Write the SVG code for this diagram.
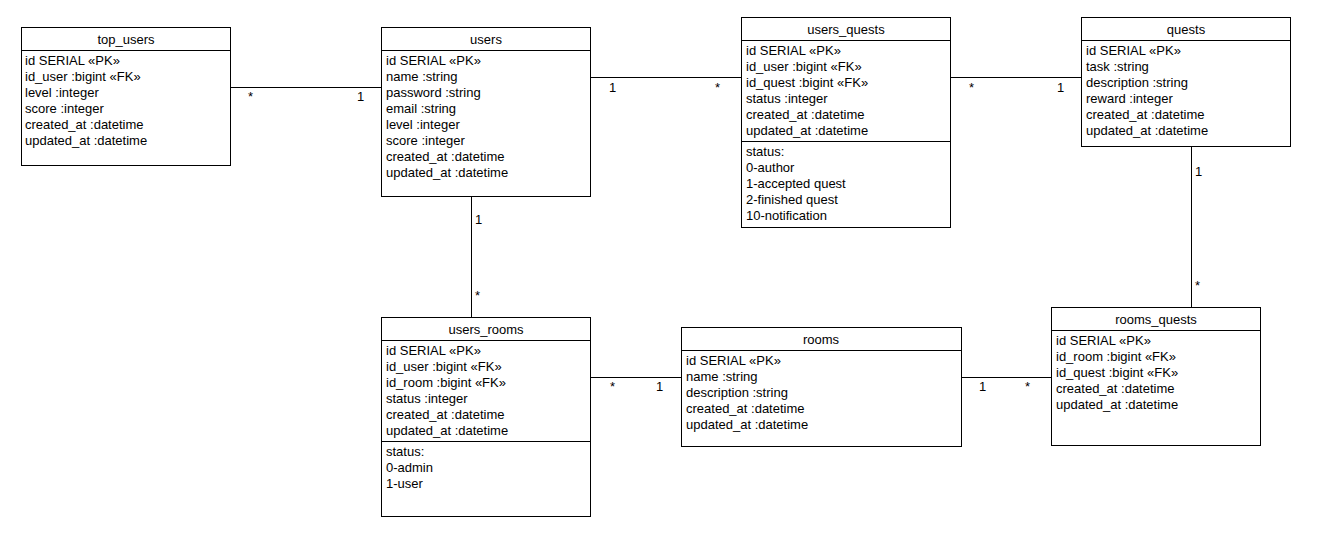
<svg xmlns="http://www.w3.org/2000/svg" width="1325" height="540" viewBox="0 0 1325 540">
  <style>
    .box { fill: #ffffff; stroke: #000000; stroke-width: 1; }
    .sep { stroke: #000000; stroke-width: 1; }
    .edge { fill: none; stroke: #000000; stroke-width: 1; }
    text { font-family: "Liberation Sans", Arial, sans-serif; font-size: 13px; fill: #000000; }
    .title { text-anchor: middle; }
  </style>
  <rect width="1325" height="540" fill="#ffffff"/>

  <!-- associations with multiplicities -->
  <g id="connectors">
    <path class="edge" d="M230.5,87.5 H381.5"/>
    <text x="248" y="101">*</text>
    <text x="357" y="101">1</text>

    <path class="edge" d="M590.5,77.5 H741.5"/>
    <text x="609" y="92">1</text>
    <text x="715" y="92">*</text>

    <path class="edge" d="M950.5,77.5 H1081.5"/>
    <text x="969" y="92">*</text>
    <text x="1057" y="92">1</text>

    <path class="edge" d="M471.5,196.5 V317.5"/>
    <text x="475" y="224">1</text>
    <text x="475" y="300">*</text>

    <path class="edge" d="M1191.5,146.5 V307.5"/>
    <text x="1195" y="176">1</text>
    <text x="1195" y="290">*</text>

    <path class="edge" d="M590.5,377.5 H681.5"/>
    <text x="610" y="391">*</text>
    <text x="656" y="391">1</text>

    <path class="edge" d="M961.5,377.5 H1051.5"/>
    <text x="979" y="391">1</text>
    <text x="1025" y="391">*</text>
  </g>

  <g id="top_users">
    <rect class="box" x="21.5" y="27.5" width="209" height="138"/>
    <line class="sep" x1="21.5" y1="50.5" x2="230.5" y2="50.5"/>
    <text class="title" x="126" y="44">top_users</text>
    <text x="25" y="65">id SERIAL «PK»</text>
    <text x="25" y="81">id_user :bigint «FK»</text>
    <text x="25" y="97">level :integer</text>
    <text x="25" y="113">score :integer</text>
    <text x="25" y="129">created_at :datetime</text>
    <text x="25" y="145">updated_at :datetime</text>
  </g>

  <g id="users">
    <rect class="box" x="381.5" y="27.5" width="209" height="169"/>
    <line class="sep" x1="381.5" y1="50.5" x2="590.5" y2="50.5"/>
    <text class="title" x="486" y="44">users</text>
    <text x="386" y="65">id SERIAL «PK»</text>
    <text x="386" y="81">name :string</text>
    <text x="386" y="97">password :string</text>
    <text x="386" y="113">email :string</text>
    <text x="386" y="129">level :integer</text>
    <text x="386" y="145">score :integer</text>
    <text x="386" y="161">created_at :datetime</text>
    <text x="386" y="177">updated_at :datetime</text>
  </g>

  <g id="users_quests">
    <rect class="box" x="741.5" y="17.5" width="209" height="210"/>
    <line class="sep" x1="741.5" y1="40.5" x2="950.5" y2="40.5"/>
    <line class="sep" x1="741.5" y1="141.5" x2="950.5" y2="141.5"/>
    <text class="title" x="846" y="34">users_quests</text>
    <text x="746" y="55">id SERIAL «PK»</text>
    <text x="746" y="71">id_user :bigint «FK»</text>
    <text x="746" y="87">id_quest :bigint «FK»</text>
    <text x="746" y="103">status :integer</text>
    <text x="746" y="119">created_at :datetime</text>
    <text x="746" y="135">updated_at :datetime</text>
    <text x="746" y="156">status:</text>
    <text x="746" y="172">0-author</text>
    <text x="746" y="188">1-accepted quest</text>
    <text x="746" y="204">2-finished quest</text>
    <text x="746" y="220">10-notification</text>
  </g>

  <g id="quests">
    <rect class="box" x="1081.5" y="17.5" width="209" height="129"/>
    <line class="sep" x1="1081.5" y1="40.5" x2="1290.5" y2="40.5"/>
    <text class="title" x="1186" y="34">quests</text>
    <text x="1086" y="55">id SERIAL «PK»</text>
    <text x="1086" y="71">task :string</text>
    <text x="1086" y="87">description :string</text>
    <text x="1086" y="103">reward :integer</text>
    <text x="1086" y="119">created_at :datetime</text>
    <text x="1086" y="135">updated_at :datetime</text>
  </g>

  <g id="users_rooms">
    <rect class="box" x="381.5" y="317.5" width="209" height="199"/>
    <line class="sep" x1="381.5" y1="340.5" x2="590.5" y2="340.5"/>
    <line class="sep" x1="381.5" y1="441.5" x2="590.5" y2="441.5"/>
    <text class="title" x="486" y="334">users_rooms</text>
    <text x="386" y="355">id SERIAL «PK»</text>
    <text x="386" y="371">id_user :bigint «FK»</text>
    <text x="386" y="387">id_room :bigint «FK»</text>
    <text x="386" y="403">status :integer</text>
    <text x="386" y="419">created_at :datetime</text>
    <text x="386" y="435">updated_at :datetime</text>
    <text x="386" y="456">status:</text>
    <text x="386" y="472">0-admin</text>
    <text x="386" y="488">1-user</text>
  </g>

  <g id="rooms">
    <rect class="box" x="681.5" y="327.5" width="280" height="119"/>
    <line class="sep" x1="681.5" y1="350.5" x2="961.5" y2="350.5"/>
    <text class="title" x="821" y="344">rooms</text>
    <text x="686" y="365">id SERIAL «PK»</text>
    <text x="686" y="381">name :string</text>
    <text x="686" y="397">description :string</text>
    <text x="686" y="413">created_at :datetime</text>
    <text x="686" y="429">updated_at :datetime</text>
  </g>

  <g id="rooms_quests">
    <rect class="box" x="1051.5" y="307.5" width="209" height="138"/>
    <line class="sep" x1="1051.5" y1="330.5" x2="1260.5" y2="330.5"/>
    <text class="title" x="1156" y="324">rooms_quests</text>
    <text x="1056" y="345">id SERIAL «PK»</text>
    <text x="1056" y="361">id_room :bigint «FK»</text>
    <text x="1056" y="377">id_quest :bigint «FK»</text>
    <text x="1056" y="393">created_at :datetime</text>
    <text x="1056" y="409">updated_at :datetime</text>
  </g>
</svg>
